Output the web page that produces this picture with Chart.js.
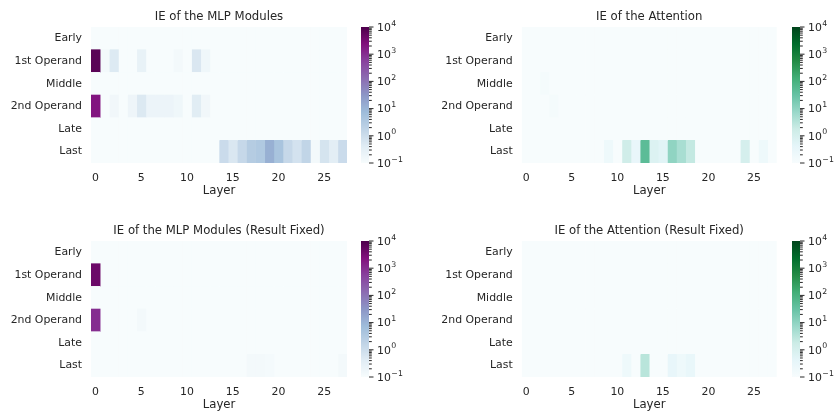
<!DOCTYPE html>
<html>
<head>
<meta charset="utf-8">
<script src="https://cdn.jsdelivr.net/npm/chart.js@4.4.0/dist/chart.umd.min.js"></script>
<style>
  html, body { margin: 0; padding: 0; background: #fff; }
  #fig { position: relative; width: 835px; height: 414px; overflow: hidden; }
  #fig canvas { position: absolute; }
</style>
</head>
<body>
<div id="fig"></div>
<script>
// rows and layers of every heatmap
const rowLabels = ['Early', '1st Operand', 'Middle', '2nd Operand', 'Late', 'Last'];
const layers = [0, 1, 2, 3, 4, 5, 6, 7, 8, 9, 10, 11, 12, 13, 14, 15, 16, 17, 18, 19, 20, 21, 22, 23, 24, 25, 26, 27];
const layerTicks = [0, 5, 10, 15, 20, 25];
const cbarExponents = [-1, 0, 1, 2, 3, 4];
const vmin = 0.1, vmax = 10000;

// indirect effect, one row per token position
const mlpIE = [
  [0, 0, 0, 0, 0, 0, 0, 0, 0, 0, 0, 0, 0, 0, 0, 0, 0, 0, 0, 0, 0, 0, 0, 0, 0, 0, 0, 0],
  [7000, 0.13, 0.48, 0, 0, 0.25, 0, 0, 0, 0.13, 0, 0.55, 0.16, 0, 0, 0, 0, 0, 0, 0, 0, 0, 0, 0, 0, 0, 0, 0],
  [0, 0, 0, 0, 0, 0, 0, 0, 0, 0, 0, 0, 0, 0, 0, 0, 0, 0, 0, 0, 0, 0, 0, 0, 0, 0, 0, 0],
  [2000, 0, 0.15, 0, 0.18, 0.5, 0.2, 0.2, 0.2, 0.16, 0, 0.4, 0.15, 0, 0, 0, 0, 0, 0, 0, 0, 0, 0, 0, 0, 0, 0, 0],
  [0, 0, 0, 0, 0, 0, 0, 0, 0, 0, 0, 0, 0, 0, 0, 0, 0, 0, 0, 0, 0, 0, 0, 0, 0, 0, 0, 0],
  [0, 0, 0, 0, 0, 0, 0, 0, 0, 0, 0, 0, 0, 0, 1.1, 0.55, 1.3, 2.8, 3.4, 12, 4.6, 1.3, 0.74, 1.6, 0.13, 0.68, 0.35, 1.1]
];
const attnIE = [
  [0, 0, 0, 0, 0, 0, 0, 0, 0, 0, 0, 0, 0, 0, 0, 0, 0, 0, 0, 0, 0, 0, 0, 0, 0, 0, 0, 0],
  [0, 0, 0, 0, 0, 0, 0, 0, 0, 0, 0, 0, 0, 0, 0, 0, 0, 0, 0, 0, 0, 0, 0, 0, 0, 0, 0, 0],
  [0, 0, 0.13, 0, 0, 0, 0, 0, 0, 0, 0, 0, 0, 0, 0, 0, 0, 0, 0, 0, 0, 0, 0, 0, 0, 0, 0, 0],
  [0, 0, 0, 0.13, 0, 0, 0, 0, 0, 0, 0, 0, 0, 0, 0, 0, 0, 0, 0, 0, 0, 0, 0, 0, 0, 0, 0, 0],
  [0, 0, 0, 0, 0, 0, 0, 0, 0, 0, 0, 0, 0, 0, 0, 0, 0, 0, 0, 0, 0, 0, 0, 0, 0, 0, 0, 0],
  [0, 0, 0, 0, 0, 0, 0, 0, 0, 0.2, 0, 1.4, 0.31, 47, 0.7, 0.52, 9.7, 4.9, 2.2, 0, 0, 0, 0, 0, 1.05, 0, 0.2, 0]
];
const mlpFixedIE = [
  [0, 0, 0, 0, 0, 0, 0, 0, 0, 0, 0, 0, 0, 0, 0, 0, 0, 0, 0, 0, 0, 0, 0, 0, 0, 0, 0, 0],
  [4200, 0, 0, 0, 0, 0, 0, 0, 0, 0, 0, 0, 0, 0, 0, 0, 0, 0, 0, 0, 0, 0, 0, 0, 0, 0, 0, 0],
  [0, 0, 0, 0, 0, 0, 0, 0, 0, 0, 0, 0, 0, 0, 0, 0, 0, 0, 0, 0, 0, 0, 0, 0, 0, 0, 0, 0],
  [970, 0, 0, 0, 0, 0.13, 0, 0, 0, 0, 0, 0, 0, 0, 0, 0, 0, 0, 0, 0, 0, 0, 0, 0, 0, 0, 0, 0],
  [0, 0, 0, 0, 0, 0, 0, 0, 0, 0, 0, 0, 0, 0, 0, 0, 0, 0, 0, 0, 0, 0, 0, 0, 0, 0, 0, 0],
  [0, 0, 0, 0, 0, 0, 0, 0, 0, 0, 0, 0, 0, 0, 0, 0, 0, 0.13, 0.13, 0.12, 0, 0, 0, 0, 0, 0, 0, 0.13]
];
const attnFixedIE = [
  [0, 0, 0, 0, 0, 0, 0, 0, 0, 0, 0, 0, 0, 0, 0, 0, 0, 0, 0, 0, 0, 0, 0, 0, 0, 0, 0, 0],
  [0, 0, 0, 0, 0, 0, 0, 0, 0, 0, 0, 0, 0, 0, 0, 0, 0, 0, 0, 0, 0, 0, 0, 0, 0, 0, 0, 0],
  [0, 0, 0, 0, 0, 0, 0, 0, 0, 0, 0, 0, 0, 0, 0, 0, 0, 0, 0, 0, 0, 0, 0, 0, 0, 0, 0, 0],
  [0, 0, 0, 0, 0, 0, 0, 0, 0, 0, 0, 0, 0, 0, 0, 0, 0, 0, 0, 0, 0, 0, 0, 0, 0, 0, 0, 0],
  [0, 0, 0, 0, 0, 0, 0, 0, 0, 0, 0, 0, 0, 0, 0, 0, 0, 0, 0, 0, 0, 0, 0, 0, 0, 0, 0, 0],
  [0, 0, 0, 0, 0, 0, 0, 0, 0, 0, 0, 0.2, 0, 3.0, 0, 0, 0.32, 0.2, 0.3, 0, 0, 0, 0, 0, 0, 0, 0, 0]
];

// matplotlib BuPu / BuGn
const BuPu = ['#f7fcfd', '#e0ecf4', '#bfd3e6', '#9ebcda', '#8c96c6', '#8c6bb1', '#88419d', '#810f7c', '#4d004b'];
const BuGn = ['#f7fcfd', '#e5f5f9', '#ccece6', '#99d8c9', '#66c2a4', '#41ae76', '#238b45', '#006d2c', '#00441b'];

const TEXT = '#262626';
const FONT = 'DejaVu Sans';
Chart.defaults.font.family = FONT;
Chart.defaults.color = TEXT;

function hexRgb(h) {
  return [1, 3, 5].map(i => parseInt(h.substr(i, 2), 16));
}

function cmapColor(stops, v) {
  const lo = Math.log10(vmin), hi = Math.log10(vmax);
  let t = (Math.log10(Math.max(v, vmin)) - lo) / (hi - lo);
  t = Math.min(1, Math.max(0, t));
  const p = t * (stops.length - 1);
  const i = Math.min(Math.floor(p), stops.length - 2);
  const f = p - i;
  const a = hexRgb(stops[i]), b = hexRgb(stops[i + 1]);
  const c = a.map((x, k) => Math.round(x + (b[k] - x) * f));
  return 'rgb(' + c.join(',') + ')';
}

const fig = document.getElementById('fig');

function addCanvas(left, top, w, h) {
  const c = document.createElement('canvas');
  c.width = w; c.height = h;
  c.style.left = left + 'px'; c.style.top = top + 'px';
  c.style.width = w + 'px'; c.style.height = h + 'px';
  fig.appendChild(c);
  return c;
}

const TITLE_H = 27, XAXIS_H = 37;

function heatmap(title, data, stops, box) {
  const top = box.top - TITLE_H;
  const h = box.bottom - box.top + TITLE_H + XAXIS_H;
  const w = box.canvasRight - box.canvasLeft;
  const canvas = addCanvas(box.canvasLeft, top, w, h);

  new Chart(canvas, {
    type: 'bar',
    data: {
      labels: rowLabels,
      datasets: layers.map(j => ({
        data: data.map(() => [j, j + 1]),
        backgroundColor: data.map(r => cmapColor(stops, r[j])),
        borderWidth: 0,
        barPercentage: 1,
        categoryPercentage: 1,
        grouped: false
      }))
    },
    options: {
      indexAxis: 'y',
      responsive: false,
      animation: false,
      events: [],
      layout: { padding: { left: 0, right: box.canvasRight - box.right, top: 0, bottom: 0 } },
      plugins: {
        legend: { display: false },
        tooltip: { enabled: false },
        title: {
          display: true, text: title, fullSize: false, color: TEXT,
          font: { size: 11.7, weight: 'normal', lineHeight: 1.2 },
          padding: { top: 10, bottom: 3 }
        }
      },
      scales: {
        x: {
          type: 'linear', min: 0, max: layers.length,
          afterFit: s => { s.height = XAXIS_H; },
          afterBuildTicks: s => { s.ticks = layerTicks.map(v => ({ value: v + 0.5 })); },
          ticks: { callback: v => String(v - 0.5), padding: 9, autoSkip: false, maxRotation: 0, font: { size: 10.9 }, color: TEXT },
          grid: { display: false, drawTicks: false },
          border: { display: false },
          title: { display: true, text: 'Layer', color: TEXT, font: { size: 11.7 }, padding: { top: 0, bottom: 2.5 } }
        },
        y: {
          afterFit: s => { s.width = box.left - box.canvasLeft; },
          ticks: { padding: 9, autoSkip: false, font: { size: 10.9 }, color: TEXT },
          grid: { display: false, drawTicks: false },
          border: { display: false }
        }
      }
    }
  });
}

// tick marks and 10^n labels of the colour bar
const cbarTickMarks = {
  id: 'cbarTickMarks',
  afterDraw(chart) {
    const s = chart.scales.y, a = chart.chartArea, ctx = chart.ctx;
    ctx.save();
    ctx.strokeStyle = TEXT;
    ctx.lineWidth = 1;
    s.ticks.forEach(t => {
      const y = s.getPixelForValue(t.value);
      const len = t.major ? 4.5 : 2.8;
      ctx.beginPath();
      ctx.moveTo(a.right, y);
      ctx.lineTo(a.right + len, y);
      ctx.stroke();
    });
    ctx.fillStyle = TEXT;
    ctx.textBaseline = 'middle';
    ctx.textAlign = 'left';
    cbarExponents.forEach(e => {
      const y = s.getPixelForValue(Math.pow(10, e));
      const x = a.right + 8;
      ctx.font = '10.9px "' + FONT + '"';
      ctx.fillText('10', x, y + 1);
      const w = ctx.measureText('10').width;
      ctx.font = '7.8px "' + FONT + '"';
      ctx.fillText(e < 0 ? '\u2212' + (-e) : String(e), x + w + 0.5, y - 3.5);
    });
    ctx.restore();
  }
};

function colorbar(stops, box, barLeft, barRight, canvasRight) {
  const top = box.top - TITLE_H;
  const h = box.bottom - box.top + TITLE_H + XAXIS_H;
  const left = barLeft - 6;
  const canvas = addCanvas(left, top, canvasRight - left, h);

  new Chart(canvas, {
    type: 'bar',
    data: {
      labels: [''],
      datasets: [{
        data: [[vmin, vmax]],
        backgroundColor: ctx => {
          const a = ctx.chart.chartArea;
          if (!a) return stops[0];
          const g = ctx.chart.ctx.createLinearGradient(0, a.bottom, 0, a.top);
          stops.forEach((c, i) => g.addColorStop(i / (stops.length - 1), c));
          return g;
        },
        borderWidth: 0,
        barPercentage: 1,
        categoryPercentage: 1
      }]
    },
    options: {
      responsive: false,
      animation: false,
      events: [],
      layout: { padding: { left: 6, right: 0, top: TITLE_H, bottom: XAXIS_H } },
      plugins: { legend: { display: false }, tooltip: { enabled: false } },
      scales: {
        x: { display: false },
        y: {
          type: 'logarithmic', position: 'right', min: vmin, max: vmax,
          afterFit: s => { s.width = canvasRight - barRight; },
          afterBuildTicks: s => {
            const ticks = [];
            for (let e = -1; e < 4; e++) {
              for (let k = 1; k < 10; k++) ticks.push({ value: k * Math.pow(10, e), major: k === 1 });
            }
            ticks.push({ value: vmax, major: true });
            s.ticks = ticks;
          },
          ticks: { autoSkip: false, callback: () => '' },
          grid: { display: false, drawTicks: false },
          border: { display: false }
        }
      }
    },
    plugins: [cbarTickMarks]
  });
}

const topRow = { top: 27, bottom: 163 };
const bottomRow = { top: 241, bottom: 377 };

heatmap('IE of the MLP Modules', mlpIE, BuPu,
  { canvasLeft: 0, canvasRight: 355, left: 91, right: 347, top: topRow.top, bottom: topRow.bottom });
colorbar(BuPu, topRow, 361, 369, 425);

heatmap('IE of the Attention', attnIE, BuGn,
  { canvasLeft: 420, canvasRight: 786, left: 521.7, right: 776.7, top: topRow.top, bottom: topRow.bottom });
colorbar(BuGn, topRow, 792, 800, 835);

heatmap('IE of the MLP Modules (Result Fixed)', mlpFixedIE, BuPu,
  { canvasLeft: 0, canvasRight: 355, left: 91, right: 347, top: bottomRow.top, bottom: bottomRow.bottom });
colorbar(BuPu, bottomRow, 361, 369, 425);

heatmap('IE of the Attention (Result Fixed)', attnFixedIE, BuGn,
  { canvasLeft: 420, canvasRight: 786, left: 521.7, right: 776.7, top: bottomRow.top, bottom: bottomRow.bottom });
colorbar(BuGn, bottomRow, 792, 800, 835);
</script>
</body>
</html>
